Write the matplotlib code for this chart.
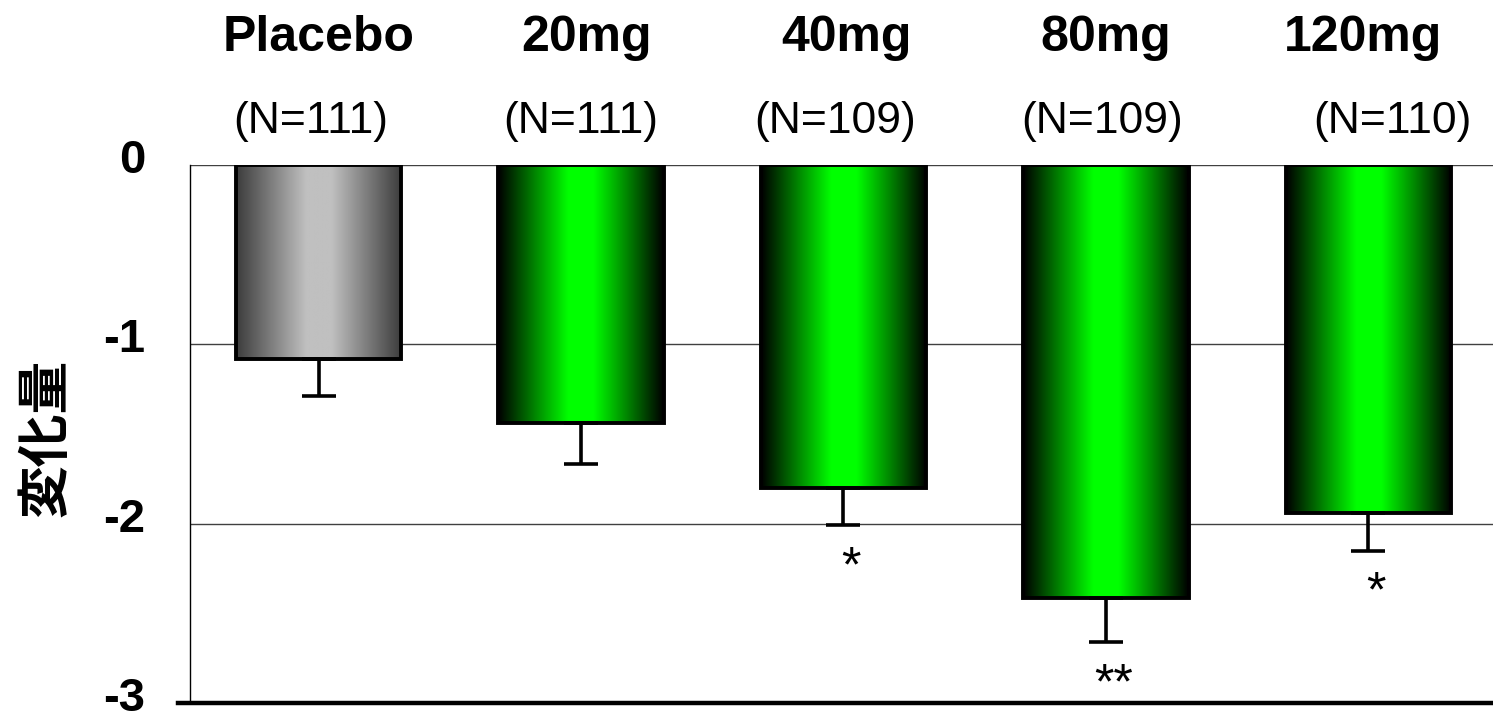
import numpy as np
import matplotlib
matplotlib.use("Agg")
import matplotlib.pyplot as plt
import matplotlib.transforms as mtransforms
from matplotlib.colors import LinearSegmentedColormap

plt.rcParams['font.family'] = ['Liberation Sans', 'Noto Sans CJK JP', 'DejaVu Sans']

# data
groups = ["Placebo", "20mg", "40mg", "80mg", "120mg"]
n_labels = ["(N=111)", "(N=111)", "(N=109)", "(N=109)", "(N=110)"]
means = [-1.08, -1.44, -1.80, -2.415, -1.94]
se = [0.21, 0.23, 0.21, 0.245, 0.21]
stars = ["", "", "*", "**", "*"]
yticks = [0, -1, -2, -3]

x = np.arange(len(groups))
width = 0.63

fig = plt.figure(figsize=(14.93, 7.2), dpi=100)
ax = fig.add_axes([190/1493, 1 - 703/720, 1 - 190/1493, (703 - 165)/720])

ax.set_ylim(-3, 0)
ax.set_xlim(-0.49, 4.475)

# grid lines
for yv in [0, -1, -2]:
    ax.axhline(yv, color="#404040", lw=1.0, zorder=1)

bars = ax.bar(x, means, width=width, color="none", edgecolor="black",
              linewidth=2.8, zorder=3)

green = LinearSegmentedColormap.from_list("g", ["#000000", "#00ff00"])
gray = LinearSegmentedColormap.from_list("k", ["#3c3c3c", "#c0c0c0"])
prof = 1 - np.abs(np.linspace(-1, 1, 256))
prof = np.clip(prof / 0.85, 0, 1)[None, :]
for i, b in enumerate(bars):
    x0 = b.get_x()
    cmap = gray if i == 0 else green
    im = ax.imshow(prof, cmap=cmap, aspect="auto", vmin=0, vmax=1,
                   extent=[x0, x0 + b.get_width(), means[i], 0], zorder=2)
    im.set_clip_path(b)

ax.errorbar(x, means, yerr=[se, np.zeros(len(se))], fmt="none", ecolor="black",
            elinewidth=2.6, capsize=12, capthick=2.6, zorder=4)

for i in range(len(groups)):
    if stars[i]:
        ax.text(x[i] + 0.03, means[i] - se[i] - 0.24, stars[i], ha="center", va="center",
                fontsize=36, zorder=5)

# labels on top
label_dx = [0, 0.02, 0.01, 0.0, -0.02]
n_dx = [-0.03, 0.0, -0.03, -0.015, 0.09]
for i in range(len(groups)):
    ax.text(x[i] + label_dx[i], 1 + (165 - 38) / 538, groups[i],
            transform=ax.get_xaxis_transform(),
            ha="center", va="center", fontsize=36, fontweight="bold")
    ax.text(x[i] + n_dx[i], 1 + (165 - 121) / 538, n_labels[i],
            transform=ax.get_xaxis_transform(), ha="center", va="center", fontsize=32)

for s in ["top", "right"]:
    ax.spines[s].set_visible(False)
ax.spines["left"].set_linewidth(1.0)
ax.spines["bottom"].set_visible(False)
ax.axhline(-3, xmin=-0.0095, xmax=1, color="black", lw=3.2, clip_on=False, zorder=6)

ax.set_xticks([])
ax.set_yticks(yticks)
ax.set_yticklabels([str(v) for v in yticks], fontsize=34, fontweight="bold")
ax.tick_params(axis="y", length=0, pad=32)
shift = mtransforms.ScaledTranslation(0, 4/100, fig.dpi_scale_trans)
for lab in ax.get_yticklabels():
    lab.set_transform(lab.get_transform() + shift)
    lab.set_verticalalignment("center")

fig.text(46/1493, 1 - 438/720, "変化量", rotation=90, ha="center", va="center",
         fontsize=38, fontweight="bold", family=["Noto Sans CJK JP", "DejaVu Sans"])

fig.savefig("out.png", dpi=100)
